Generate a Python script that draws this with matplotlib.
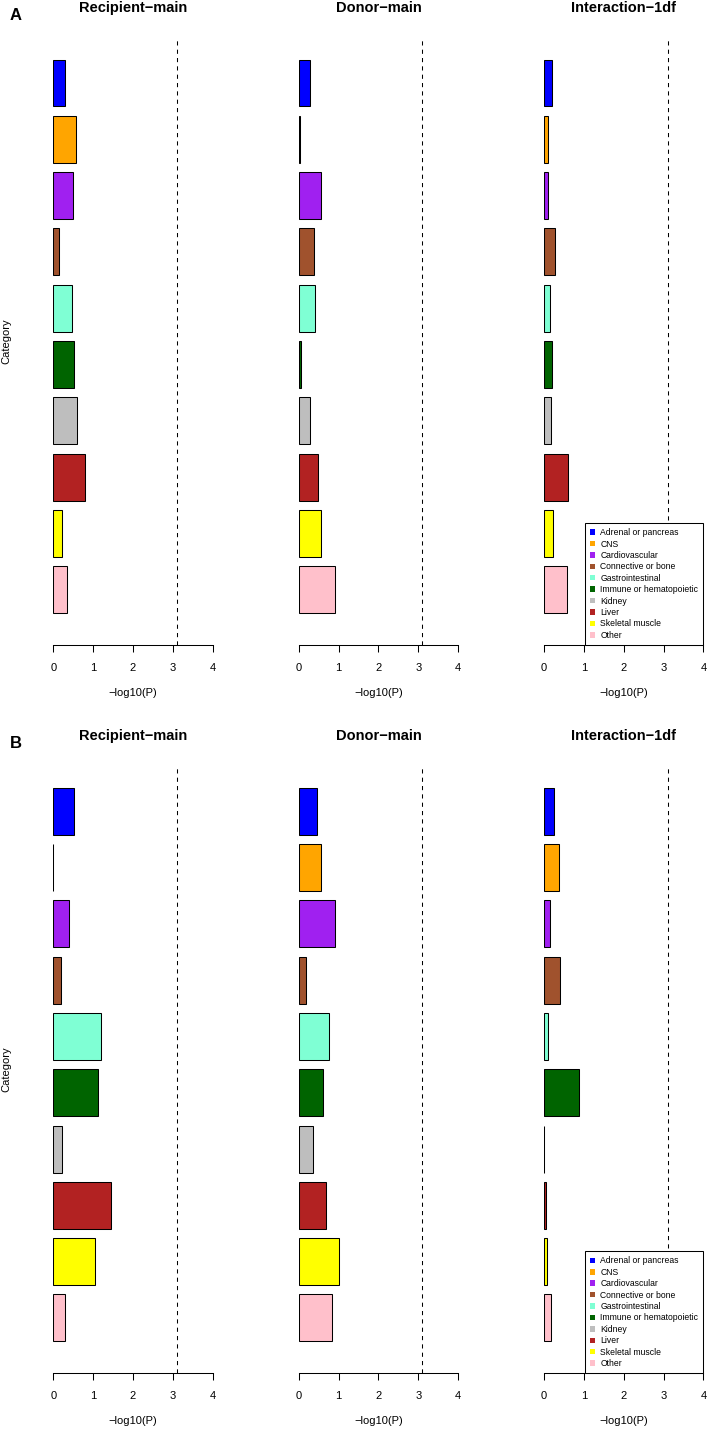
import matplotlib.pyplot as plt
from matplotlib.patches import Patch

plt.rcParams['font.family'] = ['Liberation Sans', 'DejaVu Sans']

# data (-log10 P per tissue category)
categories = ['Adrenal or pancreas', 'CNS', 'Cardiovascular', 'Connective or bone',
              'Gastrointestinal', 'Immune or hematopoietic', 'Kidney', 'Liver',
              'Skeletal muscle', 'Other']
colors = ['#0000FF', '#FFA500', '#A020F0', '#A0522D', '#7FFFD4',
          '#006400', '#BEBEBE', '#B22222', '#FFFF00', '#FFC0CB']
titles = ['Recipient\u2212main', 'Donor\u2212main', 'Interaction\u22121df']
panel_labels = ['A', 'B']

recipient_A = [0.30, 0.58, 0.49, 0.14, 0.47, 0.51, 0.60, 0.80, 0.23, 0.34]
donor_A = [0.28, 0.04, 0.55, 0.38, 0.40, 0.05, 0.28, 0.48, 0.55, 0.90]
interaction_A = [0.21, 0.11, 0.11, 0.28, 0.14, 0.20, 0.17, 0.59, 0.23, 0.57]

recipient_B = [0.53, 0.005, 0.39, 0.19, 1.20, 1.11, 0.21, 1.45, 1.04, 0.29]
donor_B = [0.46, 0.56, 0.92, 0.18, 0.77, 0.61, 0.37, 0.68, 1.00, 0.83]
interaction_B = [0.24, 0.38, 0.14, 0.39, 0.11, 0.88, 0.01, 0.05, 0.07, 0.17]

threshold = 3.1

# layout in pixels
W, H = 709, 1430
col_left = [53.3, 298.7, 544.0]
panel_bottom = [645.0, 1373.3]
aw, ah = 159.4, 608.0

fig = plt.figure(figsize=(W / 100, H / 100), dpi=100)

# R barplot positions: width 1, space 0.2
pos = [0.7 + 1.2 * i for i in range(len(categories))]

panels = [[recipient_A, donor_A, interaction_A],
          [recipient_B, donor_B, interaction_B]]

for p, series in enumerate(panels):
    top = panel_bottom[p] - ah
    for c in range(3):
        ax = fig.add_axes([col_left[c] / W, 1 - panel_bottom[p] / H, aw / W, ah / H])
        ax.barh(pos, series[c], height=1, color=colors, edgecolor='black', linewidth=0.75)
        ax.axvline(threshold, color='black', linestyle=(0, (4, 4)), linewidth=0.75)
        ax.set_xlim(0, 4)
        ax.set_ylim(12.68, -0.28)
        for s in ['top', 'right', 'left']:
            ax.spines[s].set_visible(False)
        ax.spines['bottom'].set_linewidth(0.75)
        ax.set_xticks(range(5))
        ax.tick_params(axis='x', length=5, width=0.75, labelsize=8, pad=8)
        ax.set_yticks([])
        ax.text(0.5, -48 / ah, '\u2212log10(P)', transform=ax.transAxes,
                ha='center', va='center', fontsize=8)
        ax.text(0.5, 1 + 29 / ah, titles[c], transform=ax.transAxes,
                ha='center', va='center', fontsize=10.5, fontweight='bold')
        if c == 2:
            handles = [Patch(facecolor=col, edgecolor='none') for col in colors]
            leg = ax.legend(handles, categories, loc='lower right', bbox_to_anchor=(1, 0),
                            borderaxespad=0, fontsize=6.2, handlelength=0.6, handleheight=0.6,
                            handletextpad=0.6, labelspacing=0.28, borderpad=0.6,
                            fancybox=False, framealpha=1)
            leg.get_frame().set_edgecolor('black')
            leg.get_frame().set_linewidth(0.75)

    fig.text(16 / W, 1 - (top - 22) / H, panel_labels[p], ha='center', va='center',
             fontsize=12, fontweight='bold')
    fig.text(6 / W, 1 - (top + ah / 2) / H, 'Category', rotation=90,
             ha='center', va='center', fontsize=8)

fig.savefig('out.png', dpi=100)
